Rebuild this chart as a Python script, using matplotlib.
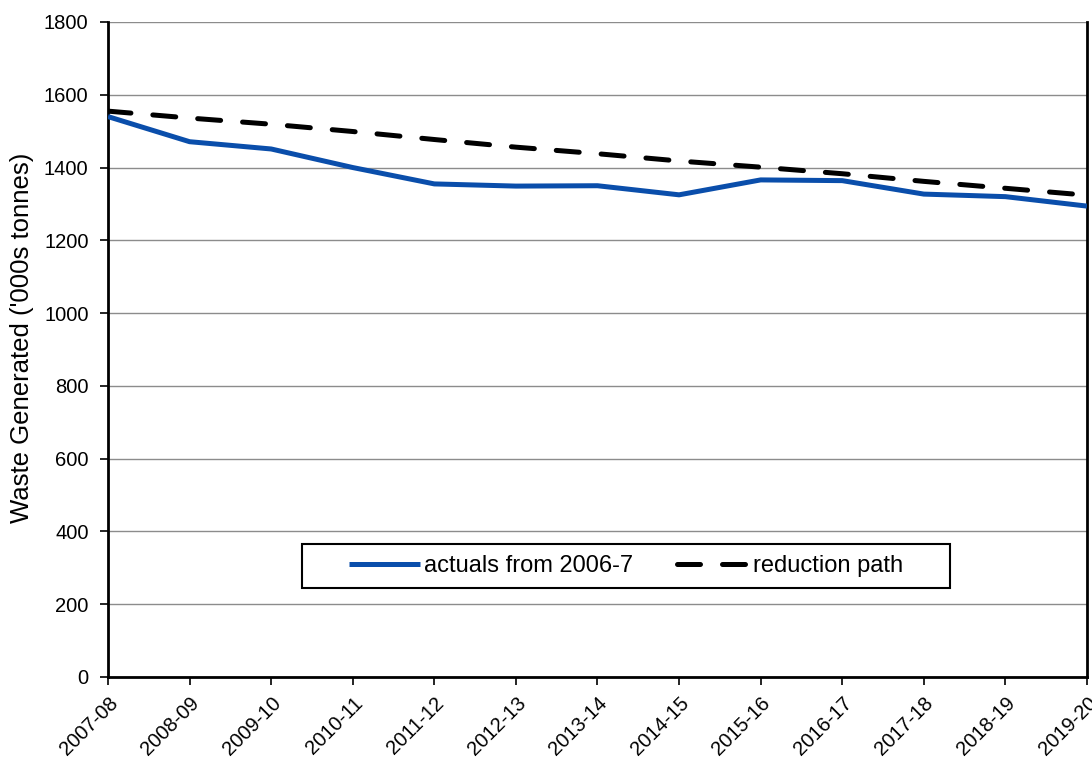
import matplotlib.pyplot as plt
from matplotlib.patches import Rectangle

plt.rcParams['font.family'] = ['Liberation Sans', 'DejaVu Sans']

years = ['2007-08', '2008-09', '2009-10', '2010-11', '2011-12', '2012-13', '2013-14',
         '2014-15', '2015-16', '2016-17', '2017-18', '2018-19', '2019-20']
actuals = [1540, 1471, 1451, 1400, 1355, 1349, 1350, 1325, 1366, 1364, 1327, 1320, 1294]
reduction = [1555, 1536, 1519, 1499, 1477, 1456, 1438, 1418, 1401, 1383, 1362, 1343, 1324]

fig = plt.figure(figsize=(10.92, 7.58), dpi=100)
ax = fig.add_axes([0.0989, 0.1069, 0.8965, 0.8641])

x = range(len(years))
ax.plot(x, actuals, color='#0A4EAB', lw=3.6, solid_capstyle='butt', label='actuals from 2006-7', zorder=3)
ax.plot(x, reduction, color='black', lw=3.6, linestyle=(0, (4.6, 4.4)), dash_capstyle='round',
        label='reduction path', zorder=4)

ax.set_xlim(0, len(years) - 1)
ax.set_ylim(0, 1800)
ax.set_yticks(range(0, 1801, 200))
ax.set_xticks(list(x))
ax.set_xticklabels(years, rotation=45, ha='right', rotation_mode='anchor')
ax.tick_params(axis='both', labelsize=14.5, length=6, width=1.2, direction='out')
ax.tick_params(axis='y', pad=8)
ax.tick_params(axis='x', pad=6)
ax.yaxis.grid(True, color='#8c8c8c', lw=1)
ax.set_axisbelow(True)

ax.spines['top'].set_visible(False)
for s in ['left', 'bottom', 'right']:
    ax.spines[s].set_linewidth(2)
    ax.spines[s].set_color('black')

ax.set_ylabel("Waste Generated ('000s tonnes)", fontsize=18.5)
ax.yaxis.set_label_coords(-0.076, 0.518)

# legend box drawn separately so the padding matches the wide frame
ax.add_patch(Rectangle((0.198, 0.136), 0.662, 0.067, transform=ax.transAxes,
                       facecolor='white', edgecolor='black', lw=1.5, zorder=5))
leg = ax.legend(loc='center', bbox_to_anchor=(0.529, 0.1695), ncol=2, fontsize=17,
                frameon=False, handlelength=3.0, handletextpad=0.2, columnspacing=1.85,
                borderpad=0.2)
leg.set_zorder(6)

fig.savefig('out.png', dpi=100)
